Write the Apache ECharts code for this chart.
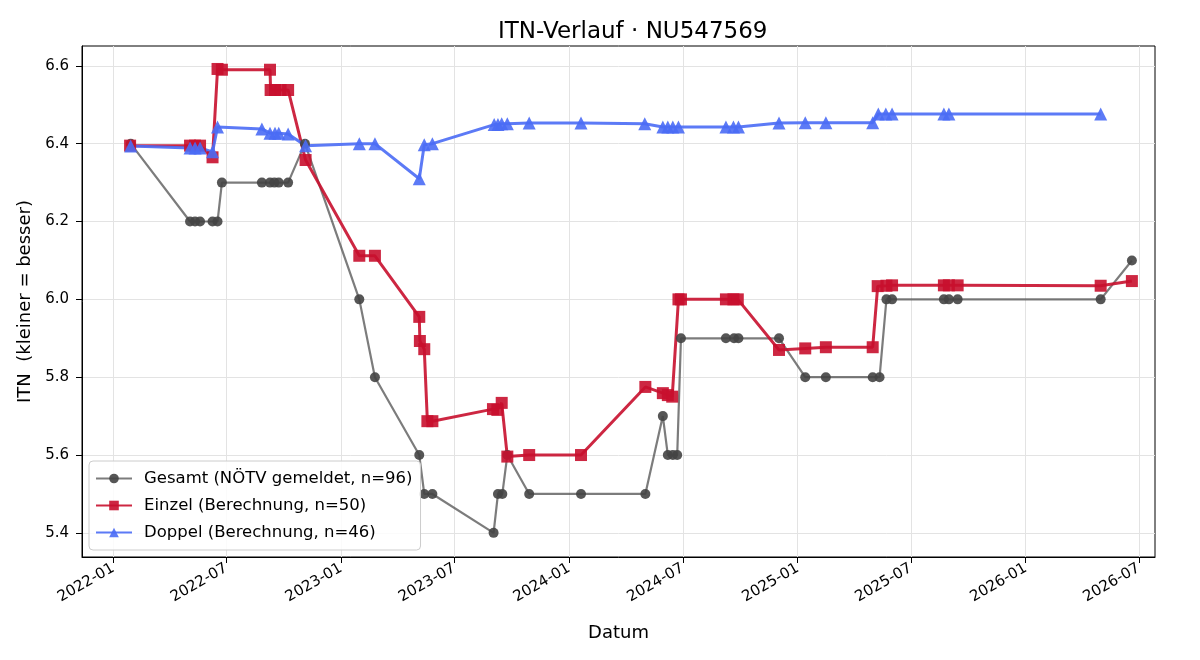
<!DOCTYPE html>
<html>
<head>
<meta charset="utf-8">
<script src="https://cdn.jsdelivr.net/npm/echarts@6/dist/echarts.min.js"></script>
<style>
  html, body { margin: 0; padding: 0; background: #fff; }
  #main { width: 1200px; height: 660px; }
</style>
</head>
<body>
<div id="main"></div>
<script>
// Gesamt (NÖTV gemeldet)
const gesamtDates = ['2022-01-29','2022-05-04','2022-05-12','2022-05-20','2022-06-09','2022-06-17','2022-06-24',
  '2022-08-27','2022-09-09','2022-09-16','2022-09-23','2022-10-08','2022-11-04','2023-01-30','2023-02-24',
  '2023-05-06','2023-05-14','2023-05-27','2023-09-02','2023-09-09','2023-09-16','2023-09-24','2023-10-29',
  '2024-01-20','2024-05-02','2024-05-30','2024-06-07','2024-06-15','2024-06-22','2024-06-28','2024-09-08',
  '2024-09-21','2024-09-28','2024-12-02','2025-01-13','2025-02-15','2025-05-01','2025-05-12','2025-05-23',
  '2025-06-01','2025-08-23','2025-08-31','2025-09-14','2026-05-01','2026-06-20'];
const gesamtValues = [6.4,6.2,6.2,6.2,6.2,6.2,6.3,
  6.3,6.3,6.3,6.3,6.3,6.4,6.0,5.8,
  5.6,5.5,5.5,5.4,5.5,5.5,5.6,5.5,
  5.5,5.5,5.7,5.6,5.6,5.6,5.9,5.9,
  5.9,5.9,5.9,5.8,5.8,5.8,5.8,6.0,
  6.0,6.0,6.0,6.0,6.0,6.1];

// Einzel (Berechnung)
const einzelDates = ['2022-01-28','2022-05-04','2022-05-12','2022-05-20','2022-06-09','2022-06-17','2022-06-24',
  '2022-09-09','2022-09-10','2022-09-17','2022-09-26','2022-10-08','2022-11-05','2023-01-30','2023-02-24',
  '2023-05-06','2023-05-07','2023-05-14','2023-05-19','2023-05-27','2023-09-01','2023-09-08','2023-09-15',
  '2023-09-24','2023-10-29','2024-01-20','2024-05-02','2024-05-30','2024-06-07','2024-06-14','2024-06-24',
  '2024-06-28','2024-09-08','2024-09-20','2024-09-27','2024-12-02','2025-01-13','2025-02-15','2025-05-01',
  '2025-05-09','2025-05-23','2025-06-01','2025-08-23','2025-08-31','2025-09-14','2026-05-01','2026-06-20'];
const einzelValues = [6.395,6.395,6.395,6.395,6.365,6.592,6.59,
  6.59,6.538,6.538,6.538,6.538,6.358,6.112,6.112,
  5.955,5.893,5.872,5.687,5.687,5.718,5.716,5.734,
  5.596,5.6,5.6,5.775,5.759,5.754,5.75,6.0,
  6.0,6.0,6.0,6.0,5.87,5.874,5.877,5.877,
  6.034,6.035,6.036,6.036,6.036,6.036,6.035,6.047];

// Doppel (Berechnung)
const doppelDates = ['2022-01-29','2022-05-04','2022-05-12','2022-05-20','2022-06-09','2022-06-17','2022-08-27',
  '2022-09-09','2022-09-17','2022-09-23','2022-10-08','2022-11-05','2023-01-30','2023-02-24','2023-05-06',
  '2023-05-14','2023-05-27','2023-09-03','2023-09-09','2023-09-15','2023-09-24','2023-10-29','2024-01-20',
  '2024-05-01','2024-05-30','2024-06-07','2024-06-15','2024-06-24','2024-09-08','2024-09-20','2024-09-28',
  '2024-12-02','2025-01-13','2025-02-15','2025-05-01','2025-05-10','2025-05-22','2025-06-01','2025-08-23',
  '2025-08-31','2026-05-01'];
const doppelValues = [6.394,6.389,6.389,6.389,6.379,6.443,6.438,
  6.427,6.427,6.427,6.425,6.395,6.4,6.4,6.31,
  6.397,6.4,6.449,6.449,6.451,6.451,6.453,6.453,
  6.451,6.443,6.443,6.443,6.443,6.443,6.443,6.443,
  6.453,6.454,6.454,6.454,6.476,6.476,6.476,6.476,
  6.476,6.476];

const xTicks = ['2022-01-01','2022-07-01','2023-01-01','2023-07-01','2024-01-01','2024-07-01',
  '2025-01-01','2025-07-01','2026-01-01','2026-07-01'];
const yTicks = [5.4, 5.6, 5.8, 6.0, 6.2, 6.4, 6.6];

function ts(s) { return +echarts.time.parse(s); }
function pairs(dates, values) { return dates.map((d, i) => [ts(d), values[i]]); }

const FONT = 'DejaVu Sans';
var myChart = echarts.init(document.getElementById('main'));

var option = {
  animation: false,
  backgroundColor: '#fff',
  textStyle: { fontFamily: FONT },
  title: {
    text: 'ITN-Verlauf · NU547569',
    left: 493,
    top: 16,
    textStyle: { fontFamily: FONT, fontSize: 23, fontWeight: 'normal', color: '#000' }
  },
  grid: {
    left: 82, right: 45, top: 46, bottom: 103,
    show: true, borderColor: '#000', borderWidth: 1
  },
  legend: {
    orient: 'vertical',
    left: 89,
    top: 461,
    padding: [9, 8, 9, 6],
    itemGap: 10,
    itemWidth: 36,
    itemHeight: 12,
    borderColor: '#cccccc',
    borderWidth: 1,
    borderRadius: 4,
    backgroundColor: 'rgba(255,255,255,0.85)',
    textStyle: { fontFamily: FONT, fontSize: 16.5, color: '#000', padding: [0, 0, 0, 7] },
    data: ['Gesamt (NÖTV gemeldet, n=96)', 'Einzel (Berechnung, n=50)', 'Doppel (Berechnung, n=46)']
  },
  xAxis: {
    type: 'value',
    min: ts('2021-11-12'),
    max: ts('2026-07-27'),
    name: 'Datum',
    nameLocation: 'middle',
    nameGap: 67,
    nameTextStyle: { fontFamily: FONT, fontSize: 18, color: '#000' },
    axisLine: { show: true, onZero: false, lineStyle: { color: '#000', width: 1 } },
    axisTick: { show: true, length: 6, lineStyle: { color: '#000' }, customValues: xTicks.map(ts) },
    axisLabel: {
      customValues: xTicks.map(ts),
      rotate: 30,
      margin: 10,
      fontFamily: FONT, fontSize: 15, color: '#000',
      formatter: function (v) {
        const d = new Date(v);
        return d.getFullYear() + '-' + String(d.getMonth() + 1).padStart(2, '0');
      }
    },
    splitLine: { show: true, lineStyle: { color: '#e3e3e3', width: 1 } }
  },
  yAxis: {
    type: 'value',
    min: 5.338,
    max: 6.651,
    name: 'ITN  (kleiner = besser)',
    nameLocation: 'middle',
    nameGap: 48,
    nameTextStyle: { fontFamily: FONT, fontSize: 18, color: '#000' },
    axisLine: { show: true, lineStyle: { color: '#000', width: 1 } },
    axisTick: { show: true, length: 6, lineStyle: { color: '#000' }, customValues: yTicks },
    axisLabel: {
      customValues: yTicks,
      margin: 13,
      fontFamily: FONT, fontSize: 15, color: '#000',
      formatter: function (v) { return Number(v).toFixed(1); }
    },
    splitLine: { show: true, lineStyle: { color: '#e3e3e3', width: 1 } }
  },
  series: [
    {
      name: 'Gesamt (NÖTV gemeldet, n=96)',
      type: 'line',
      data: pairs(gesamtDates, gesamtValues),
      symbol: 'circle',
      symbolSize: 10,
      showAllSymbol: true,
      lineStyle: { color: 'rgba(68,68,68,0.7)', width: 2.2 },
      itemStyle: { color: '#444', opacity: 0.9 }
    },
    {
      name: 'Einzel (Berechnung, n=50)',
      type: 'line',
      data: pairs(einzelDates, einzelValues),
      symbol: 'rect',
      symbolSize: 12,
      showAllSymbol: true,
      lineStyle: { color: '#c8102e', width: 3, opacity: 0.9 },
      itemStyle: { color: '#c8102e', opacity: 0.9 }
    },
    {
      name: 'Doppel (Berechnung, n=46)',
      type: 'line',
      data: pairs(doppelDates, doppelValues),
      symbol: 'triangle',
      symbolSize: 13,
      showAllSymbol: true,
      lineStyle: { color: '#4a6cf5', width: 3, opacity: 0.9 },
      itemStyle: { color: '#4a6cf5', opacity: 0.9 }
    }
  ]
};
option && myChart.setOption(option);
</script>
</body>
</html>
